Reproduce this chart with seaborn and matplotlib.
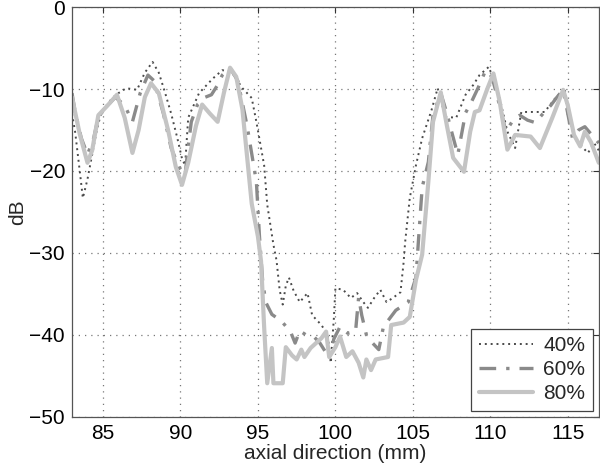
import matplotlib
matplotlib.use("Agg")
import matplotlib.pyplot as plt
import seaborn as sns
import pandas as pd

# ---- data ----
x80 = [83.0, 83.5, 84.0, 84.3, 84.7, 85.3, 85.9, 86.4, 86.9, 87.3, 87.7, 88.1, 88.6, 89.2, 89.7,
       90.1, 90.5, 91.0, 91.4, 91.9, 92.4, 92.8, 93.2, 93.6, 94.0, 94.6, 95.0, 95.2, 95.4, 95.6,
       95.9, 96.0, 96.6, 96.8, 97.2, 97.5, 97.8, 98.0, 98.4, 99.1, 99.4, 99.6, 100.0, 100.3, 100.7,
       101.1, 101.5, 101.8, 102.0, 102.3, 102.6, 103.4, 103.6, 104.4, 104.8, 105.2, 105.6, 106.0,
       106.3, 106.8, 107.2, 107.6, 108.3, 108.7, 109.0, 109.3, 109.8, 110.2, 110.6, 111.1, 111.6,
       112.6, 113.2, 114.0, 114.7, 115.0, 115.4, 115.8, 116.1, 116.5, 117.0]
y80 = [-11.0, -15.5, -19.0, -17.5, -13.2, -12.0, -10.7, -13.5, -17.8, -15.0, -11.0, -9.3, -10.5,
       -15.0, -19.5, -21.7, -19.0, -14.5, -11.9, -13.0, -14.0, -10.5, -7.4, -8.5, -12.5, -24.0,
       -28.0, -31.0, -39.0, -45.9, -41.6, -45.9, -45.9, -41.5, -42.5, -43.0, -41.8, -42.7, -41.6,
       -40.4, -39.6, -42.7, -41.5, -40.2, -42.7, -42.0, -43.4, -45.2, -43.0, -44.3, -43.0, -42.7,
       -38.8, -38.5, -37.8, -33.3, -30.2, -21.3, -14.0, -10.4, -14.5, -18.4, -20.1, -15.2, -12.8,
       -12.6, -10.0, -8.1, -11.5, -17.4, -15.6, -15.8, -17.2, -13.5, -10.1, -12.0, -15.6, -17.0,
       -15.2, -16.5, -19.0]

x60 = [83.0, 83.2, 83.6, 84.0, 84.4, 84.7, 85.3, 85.8, 86.4, 86.9, 87.4, 87.9, 88.3, 88.9, 89.4,
       89.9, 90.3, 90.5, 90.7, 91.1, 91.6, 92.0, 92.4, 92.7, 93.2, 93.7, 94.3, 94.9, 95.1, 95.3,
       95.5, 95.9, 96.2, 96.6, 97.1, 97.4, 97.7, 98.1, 98.6, 99.0, 99.4, 99.6, 99.9, 100.3, 100.8,
       101.3, 101.5, 101.7, 102.0, 102.4, 102.8, 103.1, 103.5, 103.9, 104.7, 105.2, 105.4, 105.6,
       106.0, 106.3, 106.8, 107.2, 107.5, 107.9, 108.4, 108.8, 109.2, 109.7, 110.1, 110.6, 111.0,
       111.4, 111.9, 112.4, 112.9, 113.4, 113.9, 114.3, 114.7, 115.0, 115.3, 115.7, 116.1, 116.5,
       117.0]
y60 = [-10.5, -12.8, -16.0, -18.0, -16.0, -13.4, -12.0, -11.0, -12.0, -14.0, -10.5, -8.3, -9.0,
       -13.0, -17.2, -19.5, -20.5, -17.0, -14.0, -11.9, -11.0, -10.7, -9.5, -8.3, -7.4, -9.0,
       -14.5, -21.3, -28.0, -33.3, -36.0, -37.5, -37.9, -38.5, -39.6, -41.0, -39.5, -40.0, -40.2,
       -41.0, -42.2, -42.8, -40.5, -39.0, -39.8, -39.6, -35.4, -37.6, -40.0, -41.0, -41.8, -39.0,
       -38.0, -37.0, -36.0, -33.0, -27.4, -22.0, -18.9, -13.2, -10.5, -13.0, -15.2, -18.0, -12.9,
       -11.5, -9.9, -7.7, -8.5, -12.0, -15.2, -14.0, -13.2, -13.8, -14.1, -13.0, -12.0, -11.0,
       -10.1, -13.0, -16.0, -15.0, -14.6, -15.5, -16.6]

x40 = [83.0, 83.2, 83.5, 83.7, 84.0, 84.3, 84.6, 84.9, 85.6, 86.0, 86.5, 87.2, 87.7, 88.2, 88.6,
       89.0, 89.4, 89.8, 90.1, 90.3, 90.5, 91.2, 92.1, 92.7, 93.3, 94.0, 94.6, 94.9, 95.4, 95.6,
       96.0, 96.2, 96.4, 96.6, 96.8, 97.0, 97.3, 97.7, 98.2, 98.5, 99.1, 99.5, 99.7, 99.9, 100.0,
       100.5, 101.0, 101.4, 101.8, 102.1, 102.5, 102.9, 103.3, 103.7, 104.2, 104.4, 104.5, 104.8,
       105.2, 105.6, 106.2, 106.6, 107.1, 107.8, 108.4, 108.9, 109.3, 109.9, 110.4, 110.6, 111.1,
       111.6, 112.0, 112.6, 113.5, 114.2, 114.8, 115.0, 115.5, 116.3, 116.7, 117.0]
y40 = [-13.0, -15.2, -20.0, -23.3, -21.0, -18.0, -15.0, -12.8, -11.1, -10.5, -9.9, -10.1, -8.0,
       -6.7, -8.0, -10.4, -13.0, -16.0, -18.5, -19.3, -13.5, -10.5, -8.7, -7.7, -7.9, -9.9, -11.1,
       -14.0, -19.3, -24.1, -29.0, -30.9, -34.5, -36.3, -34.0, -33.0, -34.6, -36.0, -34.9, -37.6,
       -38.8, -40.0, -43.4, -38.0, -34.3, -34.5, -35.5, -34.9, -36.0, -36.7, -35.5, -34.5, -36.0,
       -35.5, -34.8, -31.2, -28.7, -23.3, -19.3, -16.0, -12.6, -9.9, -13.4, -13.5, -10.7, -9.5,
       -8.3, -7.3, -9.8, -11.1, -15.2, -17.2, -12.8, -12.8, -12.8, -11.1, -9.9, -13.2, -16.2,
       -17.8, -16.6, -17.5]

labels = ["40%", "60%", "80%"]
x_ticks = [85, 90, 95, 100, 105, 110, 115]
y_ticks = [0, -10, -20, -30, -40, -50]

# ---- style ----
sns.set_theme(style="white")
plt.rcParams["font.family"] = ["Liberation Sans", "DejaVu Sans"]
plt.rcParams["font.size"] = 15

fig = plt.figure(figsize=(6.0, 4.71), dpi=100)
ax = fig.add_axes([0.12, 0.115, 0.878, 0.87])

series = [
    (x40, y40, labels[0], dict(color="#4a4a4a", linestyle=(0, (1, 2)), linewidth=1.4)),
    (x60, y60, labels[1], dict(color="#8a8a8a", linestyle=(0, (5, 3, 1, 3)), linewidth=2.4)),
    (x80, y80, labels[2], dict(color="#c4c4c4", linestyle="-", linewidth=3.0)),
]
for xs, ys, lab, kw in series:
    df = pd.DataFrame({"x": xs, "y": ys})
    sns.lineplot(data=df, x="x", y="y", ax=ax, label=lab, estimator=None, sort=False, **kw)

ax.set_xlim(83, 117)
ax.set_ylim(-50, 0)
ax.set_xticks(x_ticks)
ax.set_yticks(y_ticks)
ax.set_xlabel("axial direction (mm)", fontsize=15, labelpad=1)
ax.set_ylabel("dB", fontsize=15, labelpad=2)
ax.tick_params(axis="both", direction="in", length=4, width=0.8, colors="#333333",
               labelsize=15, labelcolor="black", pad=5, top=True, right=True)
ax.grid(True, linestyle=(0, (1, 4)), color="#777777", linewidth=0.9)
for sp in ax.spines.values():
    sp.set_color("#555555")
    sp.set_linewidth(0.9)

leg = ax.legend(loc="lower right", fontsize=15, frameon=True, fancybox=False,
                handlelength=2.6, borderpad=0.35, labelspacing=0.25, handletextpad=0.5,
                borderaxespad=0.3)
leg.get_frame().set_edgecolor("#444444")
leg.get_frame().set_linewidth(0.9)
leg.get_frame().set_alpha(1)

fig.savefig("out.png", dpi=100)
